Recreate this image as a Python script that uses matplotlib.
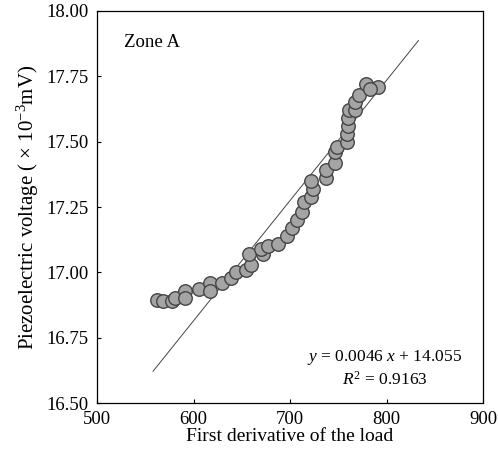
import numpy as np
import matplotlib
matplotlib.use("Agg")
import matplotlib.pyplot as plt

# values
load_deriv = [561.6, 568, 578, 581, 591, 591, 606, 617, 617, 629,
              639, 644, 654, 659, 657, 672, 670, 677, 687, 697,
              702, 707, 712, 714, 722, 724, 722, 737, 737, 747,
              747, 749, 759, 759, 760, 760, 761, 767, 767, 771,
              779, 791, 783]
voltage = [16.895, 16.89, 16.89, 16.90, 16.93, 16.90, 16.935, 16.96, 16.93, 16.96,
           16.98, 17.00, 17.01, 17.03, 17.07, 17.07, 17.09, 17.10, 17.11, 17.14,
           17.17, 17.20, 17.23, 17.27, 17.29, 17.32, 17.35, 17.36, 17.39, 17.42,
           17.46, 17.48, 17.50, 17.53, 17.56, 17.59, 17.62, 17.62, 17.65, 17.68,
           17.72, 17.71, 17.70]

slope = 0.0046
intercept = 14.055
r2 = 0.9163
fit_range = [558, 833]

xticks = [500, 600, 700, 800, 900]
yticks = [16.50, 16.75, 17.00, 17.25, 17.50, 17.75, 18.00]

plt.rcParams['font.family'] = ['Liberation Serif', 'DejaVu Serif']
plt.rcParams['mathtext.fontset'] = 'custom'
plt.rcParams['mathtext.rm'] = 'Liberation Serif'
plt.rcParams['mathtext.it'] = 'Liberation Serif:italic'

fig = plt.figure(figsize=(4.98, 4.58), dpi=100)
ax = fig.add_axes([0.195, 0.12, 0.775, 0.856])

ax.scatter(load_deriv, voltage, s=95, facecolor='#a4a4a4', edgecolor='#454545',
           linewidth=1.0, zorder=3)

fx = np.array(fit_range)
ax.plot(fx, slope * fx + intercept, color='#444444', lw=0.7, zorder=2)

ax.set_xlim(500, 900)
ax.set_ylim(16.5, 18.0)
ax.set_xticks(xticks)
ax.set_yticks(yticks)
ax.set_yticklabels(['%.2f' % v for v in yticks])
ax.tick_params(direction='in', length=3, width=0.8, labelsize=13.5, pad=6)
for s in ax.spines.values():
    s.set_linewidth(0.9)

ax.set_xlabel('First derivative of the load', fontsize=14, labelpad=0)
ax.set_ylabel('Piezoelectric voltage ( \u00d7 10$^{-3}$mV)', fontsize=15, labelpad=4)

ax.text(0.07, 0.92, 'Zone A', transform=ax.transAxes, fontsize=13.5,
        ha='left', va='center')
ax.text(0.745, 0.117, '$y$ = %.4f $x$ + %.3f' % (slope, intercept),
        transform=ax.transAxes, fontsize=12.5, ha='center', va='center')
ax.text(0.745, 0.059, '$R^2$ = %.4f' % r2, transform=ax.transAxes,
        fontsize=12.5, ha='center', va='center')

fig.savefig('out.png', dpi=100)
